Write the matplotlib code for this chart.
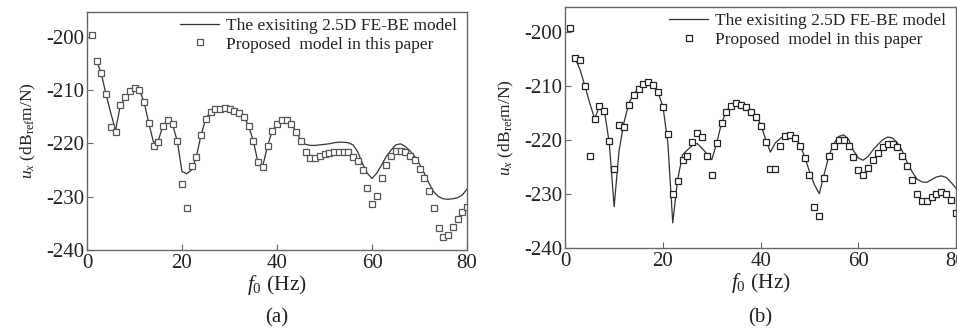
import numpy as np
import matplotlib
matplotlib.use("Agg")
import matplotlib.pyplot as plt

plt.rcParams['font.family'] = ['Liberation Serif', 'DejaVu Serif']
plt.rcParams['mathtext.fontset'] = 'custom'
plt.rcParams['mathtext.rm'] = 'Liberation Serif'
plt.rcParams['mathtext.it'] = 'Liberation Serif:italic'
plt.rcParams['axes.unicode_minus'] = False

# frequency grid (Hz)
freq = np.arange(1, 81)
freq_line = np.arange(2, 81)

# (a) proposed model, 1-80 Hz
prop_a = [-199.8, -204.5, -206.9, -210.8, -216.9, -217.8, -212.8, -211.4, -210.2, -209.7,
          -210.0, -212.2, -216.2, -220.6, -219.7, -216.7, -215.6, -216.4, -219.6, -227.6,
          -232.2, -224.3, -222.6, -218.5, -215.4, -214.1, -213.6, -213.6, -213.4, -213.6,
          -213.9, -214.3, -215.0, -216.7, -219.5, -223.6, -224.5, -220.5, -217.7, -216.4,
          -215.7, -215.7, -216.4, -217.8, -219.6, -221.6, -222.8, -222.7, -222.4, -222.1,
          -221.9, -221.7, -221.6, -221.6, -221.7, -222.5, -223.3, -225.1, -228.3, -231.4,
          -229.9, -226.6, -224.1, -222.4, -221.4, -221.4, -221.7, -222.4, -223.2, -224.8,
          -226.6, -228.9, -232.1, -235.8, -237.6, -237.2, -235.6, -234.1, -232.8, -231.9]

# (a) existing 2.5D FE-BE model, 2-80 Hz
exist_a = [-204.5, -206.9, -210.8, -214.3, -217.6, -213.0, -211.4, -210.2, -209.8, -210.0,
           -212.2, -216.2, -219.8, -219.5, -216.7, -215.7, -216.4, -219.6, -225.3, -225.7,
           -225.0, -222.6, -218.5, -215.4, -214.1, -213.6, -213.5, -213.4, -213.5, -213.8,
           -214.2, -215.0, -216.7, -219.5, -223.6, -224.3, -220.5, -217.7, -216.3, -215.6,
           -215.6, -216.3, -217.8, -219.4, -220.2, -220.4, -220.4, -220.3, -220.2, -220.1,
           -219.9, -219.8, -219.8, -219.9, -220.3, -221.6, -223.8, -225.6, -226.6, -225.6,
           -224.1, -222.5, -221.3, -220.3, -220.1, -220.6, -221.4, -222.5, -223.9, -225.6,
           -227.5, -229.1, -230.0, -230.4, -230.5, -230.4, -230.2, -229.7, -228.6]

# (b) proposed model, 1-80 Hz
prop_b = [-199.2, -204.8, -205.1, -209.9, -223.0, -216.0, -213.7, -214.5, -220.1, -225.3,
          -217.1, -217.6, -213.4, -211.7, -210.6, -209.6, -209.2, -209.7, -211.1, -213.8,
          -218.9, -229.9, -227.5, -223.6, -223.0, -220.4, -218.7, -219.4, -223.0, -226.4,
          -220.5, -216.9, -214.8, -213.6, -213.1, -213.4, -213.9, -214.7, -215.7, -217.3,
          -220.4, -225.3, -225.3, -221.1, -219.2, -219.0, -219.6, -221.1, -223.3, -226.5,
          -232.4, -234.1, -226.9, -223.0, -221.0, -219.9, -219.9, -221.0, -223.1, -225.6,
          -226.5, -225.2, -223.6, -222.4, -221.3, -220.7, -220.7, -221.3, -222.9, -224.7,
          -227.3, -229.9, -231.2, -231.2, -230.5, -229.9, -229.5, -229.9, -231.0, -233.4]

# (b) existing 2.5D FE-BE model, 2-80 Hz
exist_b = [-204.8, -206.9, -209.9, -213.1, -216.0, -213.8, -214.5, -220.5, -232.3, -222.0,
           -216.8, -213.2, -211.5, -210.4, -209.6, -209.2, -209.7, -211.2, -213.8, -220.5,
           -235.3, -227.3, -222.7, -221.8, -221.0, -220.6, -221.5, -222.5, -223.6, -220.5,
           -216.8, -214.6, -213.5, -213.0, -213.1, -213.6, -214.5, -215.6, -217.0, -219.8,
           -222.2, -220.5, -219.7, -219.0, -218.8, -219.3, -220.8, -223.0, -225.8, -228.2,
           -229.9, -226.3, -222.8, -220.6, -219.3, -219.0, -219.8, -221.9, -223.3, -223.7,
           -223.0, -221.8, -220.8, -219.9, -219.4, -219.6, -220.5, -222.0, -224.1, -225.8,
           -227.2, -227.7, -227.8, -227.3, -226.8, -226.6, -226.9, -227.8, -228.9]

W, H = 957, 333
fig = plt.figure(figsize=(W / 100, H / 100), dpi=100)

panels = [
    ([87, 12, 467, 250], exist_a, prop_a, '(a)', '#555555'),
    ([565.3, 7.3, 956, 248.3], exist_b, prop_b, '(b)', '#222222'),
]

for (x0, y0, x1, y1), exist, prop, tag, mcol in panels:
    ax = fig.add_axes([x0 / W, 1 - y1 / H, (x1 - x0) / W, (y1 - y0) / H])
    ax.plot(freq_line, exist, color='#333333', lw=0.9,
            label='The exisiting 2.5D FE-BE model')
    ax.plot(freq, prop, ls='none', marker='s', ms=4.6, mfc='white', mec=mcol,
            mew=0.9, label='Proposed  model in this paper')
    ax.set_xlim(0, 80)
    ax.set_ylim(-240, -195.4)
    ax.set_xticks([0, 20, 40, 60, 80])
    ax.set_yticks([-240, -230, -220, -210, -200])
    ax.tick_params(direction='in', length=4, width=0.8, colors='#666666',
                   labelcolor='#222222', labelsize=15, pad=2)
    ax.tick_params(axis='x', pad=3)
    for s in ax.spines.values():
        s.set_color('#666666')
        s.set_linewidth(1.0)
    ax.set_xlabel(r'$f_{\rm 0}$ (Hz)', fontsize=15.5, color='#222222', labelpad=0)
    ax.set_ylabel(r'$u_x$ (dB$_{\rm ref}$m/N)', fontsize=12.5, color='#222222', labelpad=6)
    ax.legend(loc='upper right', bbox_to_anchor=(1.0, 1.02), frameon=False,
              fontsize=12.5, handlelength=2.2, handletextpad=0.4, labelspacing=0.15,
              borderaxespad=0.2, numpoints=1, labelcolor='#222222')
    fig.text((x0 + x1) / 2 / W, 1 - 318 / H, tag, ha='center', va='center',
             fontsize=15, color='#222222')

fig.savefig('out.png', dpi=100)
